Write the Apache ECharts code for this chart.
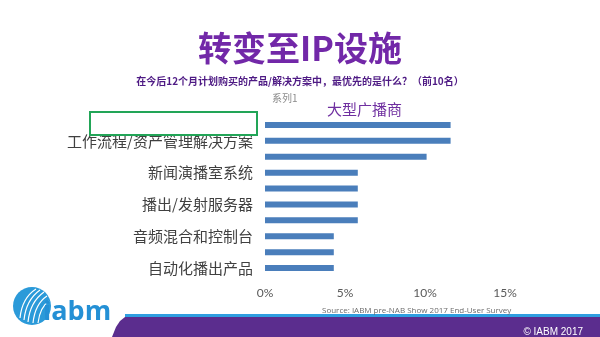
<!DOCTYPE html>
<html>
<head>
<meta charset="utf-8">
<style>
  html, body { margin: 0; padding: 0; background: #ffffff; }
  #chart { width: 600px; height: 337px; }
</style>
<script src="https://cdn.jsdelivr.net/npm/echarts@6/dist/echarts.min.js"></script>
</head>
<body>
<div id="chart"></div>
<script>
// Product categories, listed top to bottom
const categories = [
  'IP网关与路由',
  '工作流程/资产管理解决方案',
  '图形与字幕系统',
  '新闻演播室系统',
  '编辑系统',
  '播出/发射服务器',
  '摄像机',
  '音频混合和控制台',
  '监控与测试设备',
  '自动化播出产品'
];
// Share of respondents (%)
const shares = [11.6, 11.6, 10.1, 5.8, 5.8, 5.8, 5.8, 4.3, 4.3, 4.3];
// Value axis ticks (%)
const tickValues = [0, 5, 10, 15];

const CJK = '"Noto Sans CJK SC", sans-serif';
const LATIN = 'Lato, "Open Sans", sans-serif';

const chart = echarts.init(document.getElementById('chart'), null, { renderer: 'canvas' });

// white wave strokes inside the logo ball
function wave(x1, y1, cx, cy, x2, y2) {
  return {
    type: 'bezierCurve',
    shape: { x1: x1, y1: y1, cpx1: cx, cpy1: cy, x2: x2, y2: y2 },
    style: { fill: 'none', stroke: '#ffffff', lineWidth: 1.2 }
  };
}

chart.setOption({
  backgroundColor: '#ffffff',
  animation: false,
  title: [
    {
      text: '转变至IP设施',
      left: 'center',
      top: 26,
      textStyle: { fontFamily: CJK, fontSize: 34, fontWeight: 'bold', color: '#7228a8' }
    },
    {
      text: '在今后12个月计划购买的产品/解决方案中，最优先的是什么？（前10名）',
      left: 'center',
      top: 71,
      textStyle: { fontFamily: CJK, fontSize: 10, fontWeight: 'bold', color: '#4e1a84' }
    },
    {
      text: '系列1',
      left: 267,
      top: 88,
      textStyle: { fontFamily: CJK, fontSize: 10, fontWeight: 'normal', color: '#8c8c8c' }
    },
    {
      text: '大型广播商',
      left: 322,
      top: 97,
      textStyle: { fontFamily: CJK, fontSize: 15, fontWeight: 'normal', color: '#6f2fa0' }
    },
    {
      text: 'Source: IABM pre-NAB Show 2017 End-User Survey',
      left: 317,
      top: 302,
      textStyle: { fontFamily: '"Liberation Sans Narrow", "Open Sans", sans-serif', fontSize: 8, fontWeight: 'normal', color: '#6b6b6b' }
    },
    {
      text: '© IABM 2017',
      right: 12,
      top: 322,
      textStyle: { fontFamily: '"Liberation Sans", sans-serif', fontSize: 10, fontWeight: 'normal', color: '#ffffff' }
    }
  ],
  grid: { left: 265, top: 117, width: 240, height: 159, containLabel: false },
  xAxis: {
    type: 'value',
    min: tickValues[0],
    max: tickValues[tickValues.length - 1],
    interval: tickValues[1] - tickValues[0],
    axisLine: { show: false },
    axisTick: { show: false },
    splitLine: { show: false },
    axisLabel: {
      formatter: '{value}%',
      margin: 11,
      fontFamily: LATIN,
      fontSize: 12,
      color: '#595959'
    }
  },
  yAxis: {
    type: 'category',
    data: categories,
    inverse: true,
    axisLine: { show: false },
    axisTick: { show: false },
    splitLine: { show: false },
    axisLabel: {
      interval: (idx) => idx % 2 === 1,
      margin: 12,
      fontFamily: CJK,
      fontSize: 15,
      color: '#404040'
    }
  },
  series: [
    {
      name: '系列1',
      type: 'bar',
      data: shares,
      barWidth: 6,
      itemStyle: { color: '#4a7ebb' }
    }
  ],
  graphic: [
    // highlight frame beside the top label
    {
      type: 'rect',
      shape: { x: 90, y: 112, width: 167, height: 23 },
      style: { fill: 'none', stroke: '#22a557', lineWidth: 2 },
      z: 10
    },
    // footer band
    {
      type: 'rect',
      shape: { x: 125, y: 314, width: 475, height: 3 },
      style: { fill: '#2f9ee0' }
    },
    {
      type: 'polygon',
      shape: { points: [[125, 317], [600, 317], [600, 337], [112, 337], [116, 327], [120, 321]] },
      style: { fill: '#5b2d8e' }
    },
    // logo mark
    {
      type: 'circle',
      shape: { cx: 32, cy: 306, r: 19 },
      style: { fill: '#2b9ad9' }
    },
    wave(20, 318, 22, 298, 36, 289),
    wave(24, 320, 26, 300, 40, 290),
    wave(28, 322, 30, 302, 44, 292),
    wave(33, 323, 35, 304, 47, 296),
    wave(38, 323, 40, 307, 49, 301),
    {
      type: 'text',
      left: 43,
      top: 299,
      style: {
        text: 'iabm',
        fontFamily: '"Open Sans", sans-serif',
        fontSize: 27,
        fontWeight: 'bold',
        fill: '#2490d5'
      }
    }
  ]
});
</script>
</body>
</html>
